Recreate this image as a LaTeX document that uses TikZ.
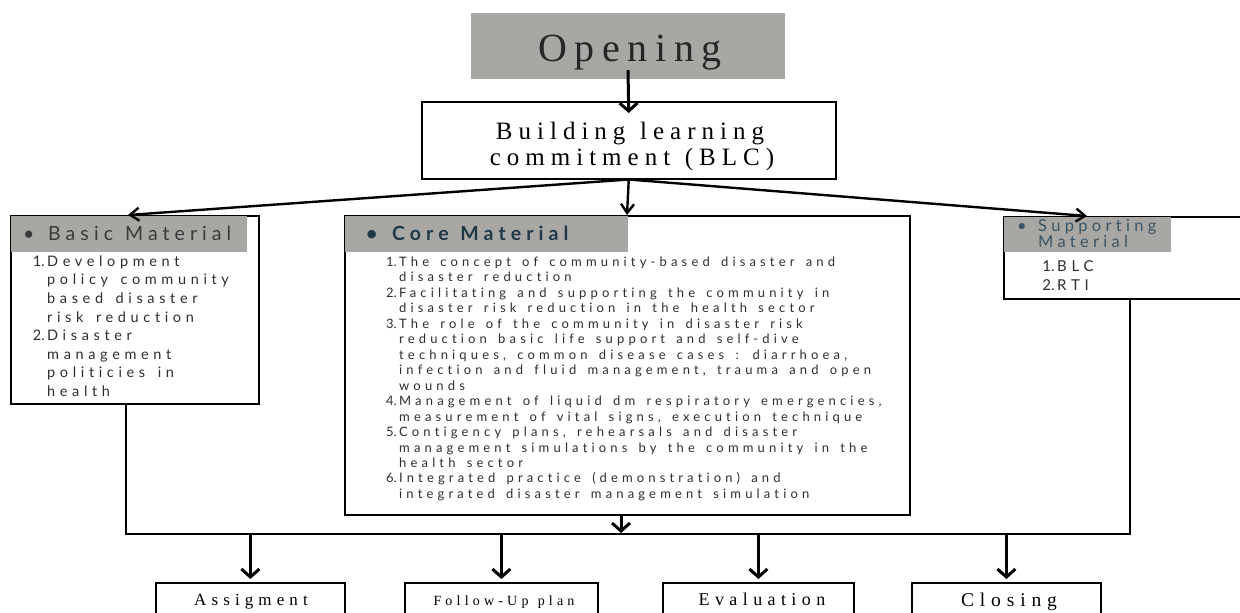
\documentclass[tikz,border=0pt]{standalone}
\usepackage{fontspec}
\usetikzlibrary{arrows.meta}

% letter-spaced families
\newfontfamily\bodyfont[LetterSpace=32,WordSpace=1.5,Ligatures=NoCommon]{Lato}
\newfontfamily\numfont{Lato}
\newfontfamily\hdfont[LetterSpace=26,WordSpace=1.2,Ligatures=NoCommon]{Lato}
\newfontfamily\titlefont[LetterSpace=24,WordSpace=1.2]{Liberation Serif}
\newfontfamily\openfont[LetterSpace=19]{Liberation Serif}
\newfontfamily\labelfont[LetterSpace=30,WordSpace=1.2]{Liberation Serif}

\definecolor{hdrgray}{HTML}{A9A7A4}
\definecolor{titleink}{HTML}{262626}
\definecolor{bodyink}{HTML}{2E2E2E}
\definecolor{basicink}{HTML}{3A3A3A}
\definecolor{coreink}{HTML}{1E3848}
\definecolor{suppink}{HTML}{3A5566}

\newcommand\itemno[1]{\makebox[0pt][r]{{\numfont #1}\hspace{2.5pt}}}

\begin{document}
\begin{tikzpicture}[x=1pt,y=-1pt,
  frame/.style={draw=black, line width=1.8pt, inner sep=0pt, anchor=north west},
  hdr/.style={fill=hdrgray, inner sep=0pt, anchor=north west},
  txt/.style={inner sep=0pt},
  list/.style={inner sep=0pt, anchor=north west, align=left},
  arrB/.style={line width=3pt, -{Straight Barb[length=8pt,width=18pt]}},
  arrS/.style={line width=2.4pt, -{Straight Barb[length=9pt,width=13pt]}},
  bus/.style={line width=2pt}]
\useasboundingbox (0,0) rectangle (1240,613);
\clip (0,0) rectangle (1240,613);
\fill[white] (0,0) rectangle (1240,613);

% opening
\node[fill=hdrgray, minimum width=314pt, minimum height=66pt, inner sep=0pt] (open) at (628,46) {};
\node[txt, anchor=base, text=titleink, font=\openfont\fontsize{40}{44}\selectfont] (opentxt) at (630,61.5) {Opening};

% building learning commitment
\node[frame, line width=1.5pt, minimum width=414pt, minimum height=77pt] (blc) at (421,101) {};
\node[txt, anchor=base, font=\titlefont\fontsize{25}{26}\selectfont] (blc1) at (630,139) {Building learning};
\node[txt, anchor=base, font=\titlefont\fontsize{25}{26}\selectfont] (blc2) at (632,165) {commitment (BLC)};

% basic material
\node[frame, minimum width=248pt, minimum height=188pt] (basic) at (10,215) {};
\node[hdr, minimum width=236pt, minimum height=36pt] (basichdr) at (11,216) {};
\node[txt, anchor=base west, text=basicink, font=\hdfont\fontsize{19.5}{20}\selectfont] (basicttl) at (23,240) {\makebox[25pt][l]{•}Basic Material};
\node[list, text=bodyink, font=\bodyfont\fontsize{14.5}{18.6}\selectfont] (basiclist) at (47,255.5) {%
\itemno{1.}Development\\
policy community\\
based disaster\\
risk reduction\\
\itemno{2.}Disaster\\
management\\
politicies in\\
health};

% core material
\node[frame, minimum width=565pt, minimum height=299pt] (core) at (344,215) {};
\node[hdr, minimum width=283pt, minimum height=36pt] (corehdr) at (345,216) {};
\node[txt, anchor=base west, text=coreink, font=\hdfont\bfseries\fontsize{19.5}{20}\selectfont] (corettl) at (366,240) {\makebox[26pt][l]{•}Core Material};
\node[list, text=bodyink, font=\bodyfont\fontsize{13}{15.47}\selectfont] (corelist) at (399,256.6) {%
\itemno{1.}The concept of community-based disaster and\\
disaster reduction\\
\itemno{2.}Facilitating and supporting the community in\\
disaster risk reduction in the health sector\\
\itemno{3.}The role of the community in disaster risk\\
reduction basic life support and self-dive\\
techniques, common disease cases : diarrhoea,\\
infection and fluid management, trauma and open\\
wounds\\
\itemno{4.}Management of liquid dm respiratory emergencies,\\
measurement of vital signs, execution technique\\
\itemno{5.}Contigency plans, rehearsals and disaster\\
management simulations by the community in the\\
health sector\\
\itemno{6.}Integrated practice (demonstration) and\\
integrated disaster management simulation};

% supporting material
\node[frame, minimum width=260pt, minimum height=82pt] (supp) at (1003,216) {};
\node[hdr, minimum width=167pt, minimum height=35pt] (supphdr) at (1004,217) {};
\node[txt, anchor=base west, text=suppink, font=\hdfont\fontsize{16.5}{17}\selectfont] (suppttl1) at (1017,231) {\makebox[21pt][l]{•}Supporting};
\node[txt, anchor=base west, text=suppink, font=\hdfont\fontsize{16.5}{17}\selectfont] (suppttl2) at (1038,247) {Material};
\node[list, text=bodyink, font=\bodyfont\fontsize{15}{19}\selectfont] (supplist) at (1057,260) {%
\itemno{1.}BLC\\
\itemno{2.}RTI};

% closing activities
\node[frame, minimum width=189pt, minimum height=50pt] (assign) at (155,582) {};
\node[frame, minimum width=193pt, minimum height=50pt] (follow) at (404,582) {};
\node[frame, minimum width=191pt, minimum height=50pt] (eval) at (662,582) {};
\node[frame, minimum width=189pt, minimum height=50pt] (close) at (911,582) {};
\node[txt, anchor=base, font=\labelfont\fontsize{17}{18}\selectfont] (assigntxt) at (251,605) {Assigment};
\node[txt, anchor=base, font=\labelfont\fontsize{14}{16}\selectfont] (followtxt) at (504,605) {Follow-Up plan};
\node[txt, anchor=base, font=\labelfont\fontsize{18}{18}\selectfont] (evaltxt) at (762,605) {Evaluation};
\node[txt, anchor=base, font=\labelfont\fontsize{19.5}{20}\selectfont] (closetxt) at (1009,606) {Closing};

% connectors
\coordinate (busL) at (126,534);
\coordinate (busR) at (1130,534);
\coordinate (busC) at (621,533);

\draw[arrB] ([yshift=9pt]open.south) -- ([yshift=-12pt]blc.north);
\draw[arrS] (blc.south) -- ([xshift=118pt]basic.north west);
\draw[arrS] (blc.south) -- ([xshift=283pt]core.north west);
\draw[arrS] (blc.south) -- ([xshift=84pt]supp.north west);

\draw[bus] ([xshift=116pt]basic.south west) -- (busL) -- (busR) -- ([xshift=127pt]supp.south west);
\draw[arrB] ([xshift=277pt]core.south west) -- (busC);

\draw[arrB] (assign.north |- busL) -- ([yshift=3pt]assign.north);
\draw[arrB] (follow.north |- busL) -- ([yshift=3pt]follow.north);
\draw[arrB] (eval.north |- busL) -- ([yshift=3pt]eval.north);
\draw[arrB] (close.north |- busL) -- ([yshift=3pt]close.north);
\end{tikzpicture}
\end{document}
